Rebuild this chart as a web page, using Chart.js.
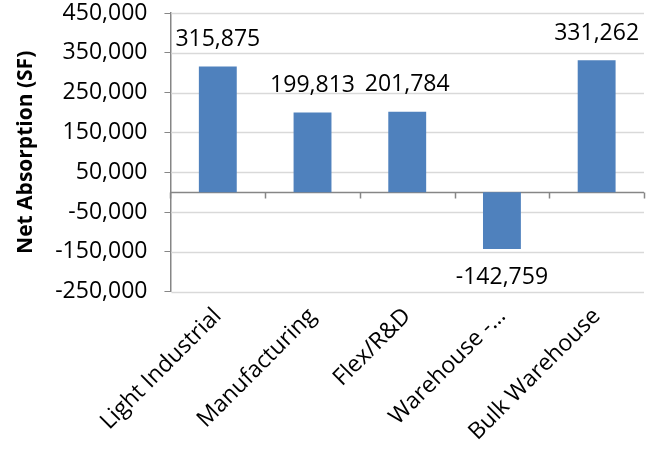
<!DOCTYPE html>
<html>
<head>
<meta charset="utf-8">
<script src="https://cdn.jsdelivr.net/npm/chart.js@4/dist/chart.umd.min.js"></script>
<style>
  html, body { margin: 0; padding: 0; background: #fff; }
  #wrap { width: 658px; height: 449px; }
</style>
</head>
<body>
<div id="wrap"><canvas id="chart"></canvas></div>
<script>
// data
var categories = ["Light Industrial", "Manufacturing", "Flex/R&D", "Warehouse -\u2026", "Bulk Warehouse"];
var absorption = [315875, 199813, 201784, -142759, 331262];
var yTicks = [-250000, -150000, -50000, 50000, 150000, 250000, 350000, 450000];

var fontName = "'Open Sans', 'Liberation Sans', sans-serif";

// light gridlines, plus the category axis line across zero with tick marks between bars
var zeroAxis = {
    id: 'zeroAxis',
    beforeDatasetsDraw: function (chart) {
        var ctx = chart.ctx;
        var x = chart.scales.x, y = chart.scales.y;
        var area = chart.chartArea;
        ctx.save();
        ctx.strokeStyle = '#d9d9d9';
        ctx.lineWidth = 1.5;
        ctx.beginPath();
        yTicks.forEach(function (v) {
            var py = Math.round(y.getPixelForValue(v)) + 0.5;
            ctx.moveTo(area.left + 1, py);
            ctx.lineTo(area.right, py);
        });
        ctx.stroke();

        var y0 = Math.round(y.getPixelForValue(0)) + 0.5;
        ctx.strokeStyle = '#868686';
        ctx.beginPath();
        ctx.moveTo(area.left, y0);
        ctx.lineTo(area.right, y0);
        for (var i = 0; i <= categories.length; i++) {
            var px;
            if (i === 0) px = area.left;
            else if (i === categories.length) px = area.right;
            else px = (x.getPixelForValue(i - 1) + x.getPixelForValue(i)) / 2;
            px = Math.round(px) + 0.5;
            ctx.moveTo(px, y0);
            ctx.lineTo(px, y0 + 6);
        }
        ctx.stroke();
        ctx.restore();
    }
};

// value labels at the end of each bar
var barLabels = {
    id: 'barLabels',
    afterDatasetsDraw: function (chart) {
        var ctx = chart.ctx;
        var meta = chart.getDatasetMeta(0);
        ctx.save();
        ctx.font = '23px ' + fontName;
        ctx.fillStyle = '#000';
        ctx.textAlign = 'center';
        ctx.textBaseline = 'middle';
        meta.data.forEach(function (bar, i) {
            var v = absorption[i];
            var y = v >= 0 ? bar.y - 27 : bar.y + 28;
            ctx.fillText(v.toLocaleString('en-US'), bar.x, y);
        });
        ctx.restore();
    }
};

new Chart(document.getElementById('chart'), {
    type: 'bar',
    data: {
        labels: categories,
        datasets: [{
            data: absorption,
            backgroundColor: '#4f81bd',
            borderWidth: 0,
            categoryPercentage: 1,
            barPercentage: 0.4
        }]
    },
    options: {
        responsive: true,
        maintainAspectRatio: false,
        animation: false,
        layout: { padding: { left: 13, right: 14, top: 4, bottom: 0 } },
        plugins: {
            legend: { display: false },
            tooltip: { enabled: false }
        },
        scales: {
            x: {
                position: 'bottom',
                grid: { display: false },
                border: { display: false },
                ticks: {
                    color: '#000',
                    font: { family: fontName, size: 23 },
                    minRotation: 45,
                    maxRotation: 45,
                    padding: 3
                }
            },
            y: {
                min: -250000,
                max: 450000,
                afterBuildTicks: function (axis) {
                    axis.ticks = yTicks.map(function (v) { return { value: v }; });
                },
                // tick padding should not push the plot down from the top
                afterFit: function (axis) {
                    axis.paddingTop = 13;
                    axis.paddingBottom = 13;
                },
                grid: {
                    drawOnChartArea: false,
                    color: '#868686',
                    tickLength: 6
                },
                border: { color: '#868686', width: 1.5 },
                ticks: {
                    color: '#000',
                    font: { family: fontName, size: 23 },
                    padding: 17,
                    callback: function (v) { return v.toLocaleString('en-US'); }
                },
                title: {
                    display: true,
                    text: 'Net Absorption (SF)',
                    color: '#000',
                    font: { family: fontName, size: 21, weight: 'bold' },
                    padding: { top: 0, bottom: 0 }
                }
            }
        }
    },
    plugins: [zeroAxis, barLabels]
});
</script>
</body>
</html>
